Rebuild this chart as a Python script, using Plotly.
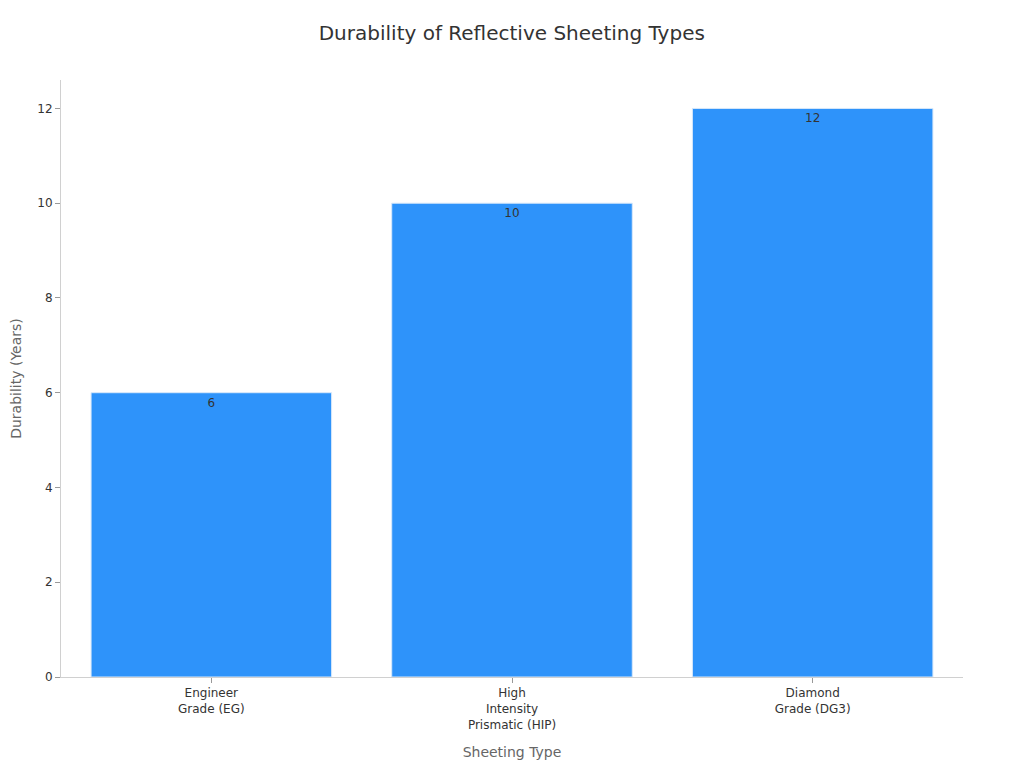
import plotly.graph_objects as go

categories = ["Engineer<br>Grade (EG)", "High<br>Intensity<br>Prismatic (HIP)", "Diamond<br>Grade (DG3)"]
values = [6, 10, 12]

fig = go.Figure(go.Bar(
    x=categories, y=values, text=[str(v) for v in values],
    textposition="inside", insidetextanchor="end",
    textfont=dict(color="#333333", size=12),
    marker=dict(color="#2E93FA", line=dict(color="#D8E8FA", width=1)),
))
fig.update_layout(
    width=1024, height=768,
    margin=dict(l=53, r=69, t=72, b=99),
    paper_bgcolor="white", plot_bgcolor="white",
    font=dict(family="DejaVu Sans", color="#333333", size=12),
    title=dict(text="Durability of Reflective Sheeting Types", x=0.492, y=0.977,
               xanchor="center", font=dict(size=20, color="#333333")),
    bargap=0.2, showlegend=False,
    xaxis=dict(title=dict(text="Sheeting Type", font=dict(size=14, color="#666666"), standoff=16),
               showline=True, linecolor="#D0D0D0", ticks="outside", ticklen=5,
               tickcolor="#999999", showgrid=False, automargin=False),
    yaxis=dict(title=dict(text="Durability (Years)", font=dict(size=14, color="#666666")),
               range=[0, 12.6], dtick=2, showline=True, linecolor="#D0D0D0",
               ticks="outside", ticklen=5, tickcolor="#999999", showgrid=False,
               zeroline=False, automargin=False),
)
fig.write_html("out.html")
